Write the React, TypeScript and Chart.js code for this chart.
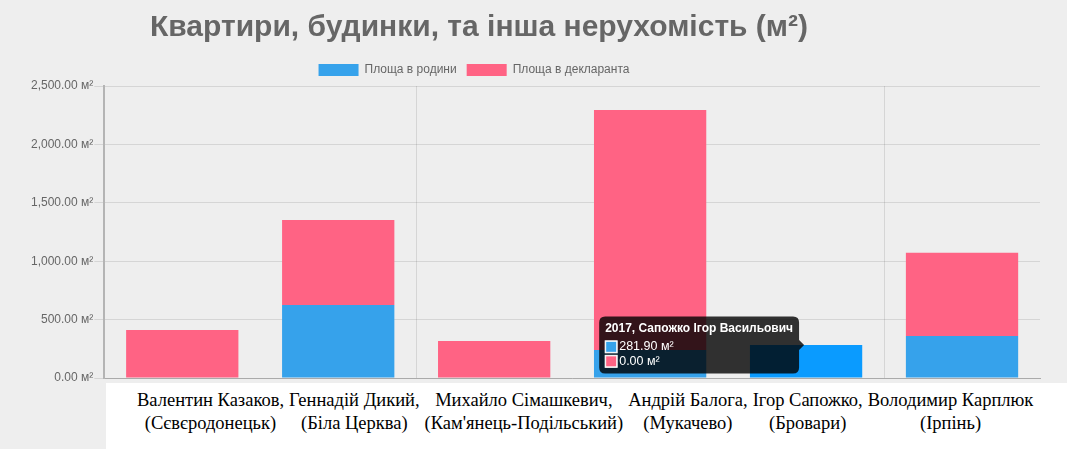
import React, { useEffect, useRef } from 'react';
import { Chart, registerables } from 'chart.js';

Chart.register(...registerables);

const categories = [
  '2017, Казаков Валентин',
  '2017, Дикий Геннадій',
  '2017, Сімашкевич Михайло',
  '2017, Балога Андрій',
  '2017, Сапожко Ігор Васильович',
  '2017, Карплюк Володимир',
];
const familyArea = [0, 625, 0, 240, 281.9, 360];
const declarantArea = [410, 728, 317, 2055, 0, 713];
const yTicks = [0, 500, 1000, 1500, 2000, 2500];

const names = ['Валентин Казаков,', 'Геннадій Дикий,', 'Михайло Сімашкевич,', 'Андрій Балога,', 'Ігор Сапожко,', 'Володимир Карплюк'];
const cities = ['(Сєвєродонецьк)', '(Біла Церква)', "(Кам'янець-Подільський)", '(Мукачево)', '(Бровари)', '(Ірпінь)'];

const activeIndex = 4;

const BLUE = '#36a2eb';
const PINK = '#ff6384';

const fmt = (v: number) =>
  v.toLocaleString('en-US', { minimumFractionDigits: 2, maximumFractionDigits: 2 }) + ' м²';

// the original has title + legend centred around x~478, not on the canvas middle
const headerShift = {
  id: 'headerShift',
  afterLayout(chart: any) {
    const t = chart.titleBlock;
    if (t) t.right = 2 * 479 - t.left;
    const l = chart.legend;
    if (l) l.right = 2 * 474 - l.left;
  },
};

const PropertyChart: React.FC = () => {
  const chartRef = useRef<HTMLCanvasElement>(null);
  const chartInstance = useRef<Chart | null>(null);

  useEffect(() => {
    if (!chartRef.current) return;
    const ctx = chartRef.current.getContext('2d');
    if (!ctx) return;

    if (chartInstance.current) {
      chartInstance.current.destroy();
    }

    Chart.defaults.font.family = "'Liberation Sans', Arial, sans-serif";
    Chart.defaults.color = '#666';

    const chart = new Chart(ctx, {
      type: 'bar',
      data: {
        labels: categories,
        datasets: [
          {
            label: 'Площа в родини',
            data: familyArea,
            backgroundColor: BLUE,
            hoverBackgroundColor: '#0a9bff',
            borderWidth: 0,
          },
          {
            label: 'Площа в декларанта',
            data: declarantArea,
            backgroundColor: PINK,
            hoverBackgroundColor: PINK,
            borderWidth: 0,
          },
        ],
      },
      options: {
        responsive: true,
        maintainAspectRatio: false,
        animation: false,
        events: [],
        layout: {
          padding: { left: 30, right: 27, top: 0, bottom: 71 },
        },
        plugins: {
          title: {
            display: true,
            text: 'Квартири, будинки, та інша нерухомість (м²)',
            color: '#666',
            font: { size: 30, weight: 'bold' },
            padding: { top: 10, bottom: 8 },
          },
          legend: {
            display: true,
            labels: {
              boxWidth: 40,
              boxHeight: 12,
              color: '#666',
              font: { size: 12 },
            },
          },
          tooltip: {
            mode: 'index',
            intersect: false,
            backgroundColor: 'rgba(0,0,0,0.8)',
            titleFont: { size: 12, weight: 'bold', lineHeight: 1 },
            bodyFont: { size: 12.5, lineHeight: 1 },
            titleMarginBottom: 6,
            bodySpacing: 2,
            padding: 6,
            cornerRadius: 6,
            caretSize: 5,
            caretPadding: 2,
            boxWidth: 12,
            boxHeight: 12,
            callbacks: {
              label: (c: any) => fmt(c.parsed.y),
              labelColor: (c: any) => ({
                borderColor: '#fff',
                backgroundColor: c.datasetIndex === 0 ? BLUE : PINK,
              }),
            },
          },
        },
        scales: {
          x: {
            stacked: true,
            ticks: { display: false },
            grid: {
              offset: true,
              drawTicks: false,
              color: (c: any) => (c.index === 2 || c.index === 5 ? 'rgba(0,0,0,0.1)' : 'rgba(0,0,0,0)'),
            },
            border: { color: '#aaa', width: 1 },
          },
          y: {
            stacked: true,
            min: 0,
            max: 2500,
            afterBuildTicks: (axis: any) => {
              axis.ticks = yTicks.map((v) => ({ value: v }));
            },
            ticks: {
              padding: 1,
              color: '#666',
              font: { size: 12 },
              callback: (v: any) => fmt(Number(v)),
            },
            grid: {
              color: 'rgba(0,0,0,0.1)',
              tickLength: 10,
            },
            border: { color: '#b4b4b4', width: 2 },
          },
        },
      },
      plugins: [headerShift],
    });

    const els = [
      { datasetIndex: 0, index: activeIndex },
      { datasetIndex: 1, index: activeIndex },
    ];
    chart.setActiveElements(els);
    chart.tooltip?.setActiveElements(els, { x: 0, y: 0 });
    chart.update();

    chartInstance.current = chart;

    return () => {
      if (chartInstance.current) {
        chartInstance.current.destroy();
        chartInstance.current = null;
      }
    };
  }, []);

  return (
    <div style={{ position: 'fixed', left: 0, top: 0, width: 1067, height: 449, background: '#eeeeee', overflow: 'hidden' }}>
      <div style={{ position: 'absolute', left: 0, top: 0, width: 1067, height: 449 }}>
        <canvas ref={chartRef}></canvas>
      </div>
      <div style={{ position: 'absolute', left: 106, top: 383, right: 0, bottom: 0, background: '#fff' }} />
      <div
        style={{
          position: 'absolute',
          left: 137,
          top: 389,
          display: 'flex',
          gap: 5,
          fontFamily: "'Liberation Serif', 'Times New Roman', serif",
          fontSize: 18.5,
          lineHeight: '23px',
          color: '#000',
          whiteSpace: 'nowrap',
        }}
      >
        {names.map((n, i) => (
          <div key={n} style={{ display: 'flex', flexDirection: 'column', alignItems: 'center' }}>
            <span>{n}</span>
            <span>{cities[i]}</span>
          </div>
        ))}
      </div>
    </div>
  );
};

export default function App() {
  return <PropertyChart />;
}
